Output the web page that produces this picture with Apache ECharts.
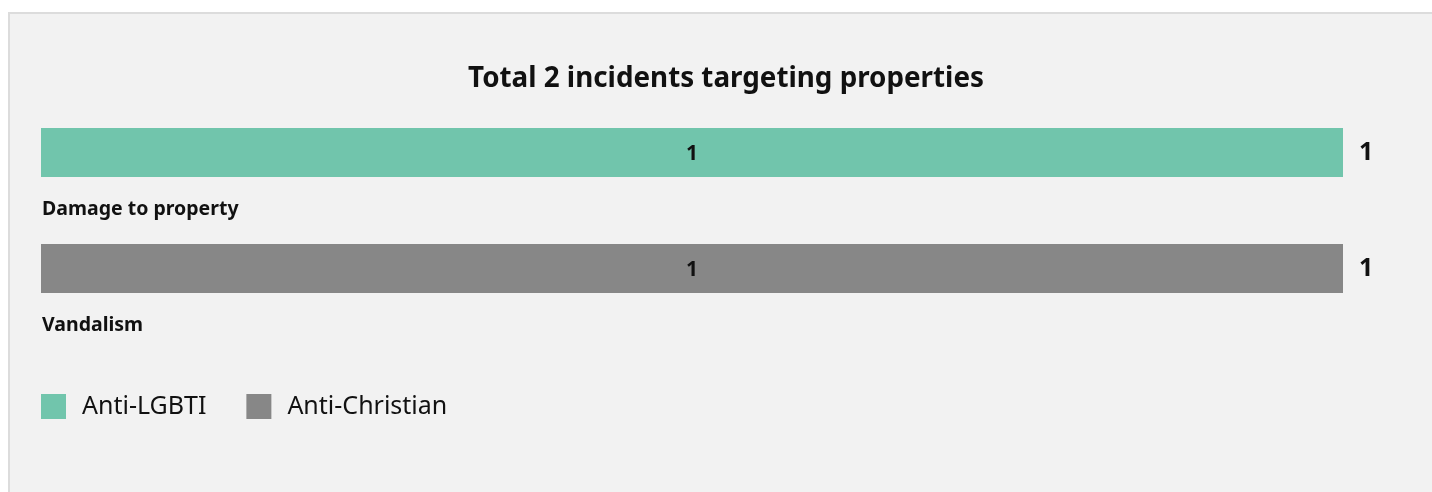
<!DOCTYPE html>
<html>
<head>
<meta charset="utf-8">
<script src="https://cdn.jsdelivr.net/npm/echarts@6/dist/echarts.min.js"></script>
<style>
  html, body { margin: 0; padding: 0; background: #ffffff; }
  #panel {
    position: absolute; left: 8px; top: 12px; width: 1440px; height: 500px;
    background: #f2f2f2; border: 2px solid #dcdcdc; box-sizing: border-box;
  }
  #chart { position: absolute; left: 0; top: 0; width: 1432px; height: 492px; }
</style>
</head>
<body>
<div id="panel"></div>
<div id="chart"></div>
<script>
// Incident types and counts per bias motivation
const categories = ['Damage to property', 'Vandalism'];
const antiLgbti = [1, 0];
const antiChristian = [0, 1];
const seriesNames = ['Anti-LGBTI', 'Anti-Christian'];
const colors = ['#71c5ac', '#878787'];

const totals = categories.map((_, i) => antiLgbti[i] + antiChristian[i]);
const grandTotal = totals.reduce((a, b) => a + b, 0);

const FONT = 'Noto Sans';

function insideLabel() {
  return {
    show: true,
    position: 'inside',
    offset: [0, 2],
    color: '#111',
    fontFamily: FONT,
    fontWeight: 'bold',
    fontSize: 21,
    formatter: p => (p.value > 0 ? String(p.value) : '')
  };
}

const chart = echarts.init(document.getElementById('chart'));
chart.setOption({
  backgroundColor: 'transparent',
  animation: false,
  title: {
    text: 'Total ' + grandTotal + ' incidents targeting properties',
    left: 721,
    textAlign: 'center',
    top: 60,
    textStyle: { fontFamily: FONT, fontWeight: 'bold', fontSize: 27.8, color: '#111' }
  },
  legend: {
    left: 36,
    top: 389,
    itemWidth: 25,
    itemHeight: 25,
    itemGap: 40,
    icon: 'rect',
    data: seriesNames,
    textStyle: { fontFamily: FONT, fontSize: 25, color: '#111', padding: [5, 0, 0, 11] }
  },
  grid: { left: 41, right: 89, top: 94.5, bottom: 165.5 },
  xAxis: { type: 'value', min: 0, max: 1, show: false },
  yAxis: [
    {
      type: 'category',
      data: categories,
      inverse: true,
      axisLine: { show: false },
      axisTick: { show: false },
      axisLabel: {
        inside: true,
        align: 'left',
        verticalAlign: 'top',
        padding: [47, 0, 0, 0],
        margin: 1,
        fontFamily: FONT,
        fontWeight: 'bold',
        fontSize: 19.5,
        color: '#111'
      }
    },
    {
      type: 'category',
      data: totals.map(String),
      inverse: true,
      position: 'right',
      axisLine: { show: false },
      axisTick: { show: false },
      axisLabel: {
        margin: 16,
        align: 'left',
        padding: [7, 0, 0, 0],
        fontFamily: FONT,
        fontWeight: 'bold',
        fontSize: 25,
        color: '#111'
      }
    }
  ],
  series: [
    {
      name: seriesNames[0], type: 'bar', stack: 'total', barWidth: 49,
      data: antiLgbti, itemStyle: { color: colors[0] }, label: insideLabel()
    },
    {
      name: seriesNames[1], type: 'bar', stack: 'total', barWidth: 49,
      data: antiChristian, itemStyle: { color: colors[1] }, label: insideLabel()
    }
  ]
});
</script>
</body>
</html>
